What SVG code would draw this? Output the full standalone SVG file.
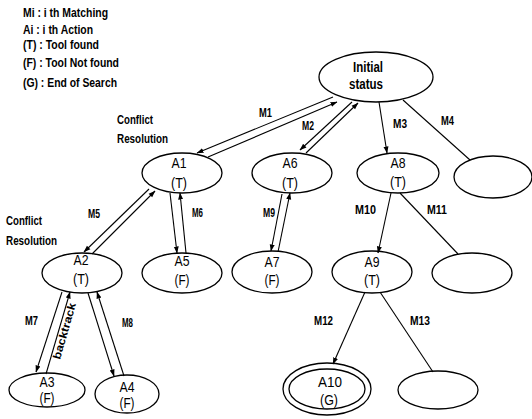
<svg xmlns="http://www.w3.org/2000/svg" width="532" height="419" viewBox="0 0 532 419">
<style>
.n{fill:none;stroke:#000;stroke-width:1.3}
.e{fill:none;stroke:#000;stroke-width:1.1}
text{font-family:"Liberation Sans",Arial,sans-serif;fill:#000}
.t{font-size:15px;text-anchor:middle}
.tb{font-size:14px;font-weight:bold;text-anchor:middle}
.m{font-size:12px;font-weight:bold}
.l{font-size:12.5px;font-weight:bold}
</style>
<defs>
<marker id="ar" markerWidth="7" markerHeight="6" refX="6.5" refY="3" orient="auto" markerUnits="userSpaceOnUse">
<path d="M0,0.5 L7,3 L0,5.5 z" fill="#000"/>
</marker>
</defs>
<g id="legend">
<text class="l" x="23" y="17" textLength="85" lengthAdjust="spacingAndGlyphs">Mi : i th Matching</text>
<text class="l" x="23" y="34" textLength="70" lengthAdjust="spacingAndGlyphs">Ai : i th Action</text>
<text class="l" x="23" y="49" textLength="76" lengthAdjust="spacingAndGlyphs">(T) : Tool found</text>
<text class="l" x="23" y="67" textLength="96" lengthAdjust="spacingAndGlyphs">(F) : Tool Not found</text>
<text class="l" x="23" y="87" textLength="94" lengthAdjust="spacingAndGlyphs">(G) : End of Search</text>
<text class="l" x="117" y="124" textLength="36" lengthAdjust="spacingAndGlyphs">Conflict</text>
<text class="l" x="117" y="143" textLength="51" lengthAdjust="spacingAndGlyphs">Resolution</text>
<text class="l" x="6" y="225" textLength="36" lengthAdjust="spacingAndGlyphs">Conflict</text>
<text class="l" x="6" y="245" textLength="51" lengthAdjust="spacingAndGlyphs">Resolution</text>
</g>
<g id="connectors">
<line class="e" x1="333" y1="97" x2="197" y2="153" marker-end="url(#ar)"/>
<line class="e" x1="208" y1="157" x2="337" y2="102" marker-end="url(#ar)"/>
<line class="e" x1="352" y1="102" x2="300" y2="150" marker-end="url(#ar)"/>
<line class="e" x1="306" y1="153" x2="358" y2="103" marker-end="url(#ar)"/>
<line class="e" x1="379" y1="102" x2="387" y2="153" marker-end="url(#ar)"/>
<line class="e" x1="403" y1="100" x2="470" y2="160"/>
<line class="e" x1="391" y1="193" x2="378" y2="253" marker-end="url(#ar)"/>
<line class="e" x1="400" y1="193" x2="458" y2="254"/>
<line class="e" x1="365" y1="292" x2="333" y2="364" marker-end="url(#ar)"/>
<line class="e" x1="380" y1="292" x2="433" y2="372"/>
<line class="e" x1="149" y1="189" x2="84" y2="252" marker-end="url(#ar)"/>
<line class="e" x1="92" y1="254" x2="155" y2="191" marker-end="url(#ar)"/>
<line class="e" x1="170" y1="193" x2="177" y2="253" marker-end="url(#ar)"/>
<line class="e" x1="186" y1="253" x2="180" y2="193" marker-end="url(#ar)"/>
<line class="e" x1="282" y1="194" x2="271" y2="251" marker-end="url(#ar)"/>
<line class="e" x1="278" y1="252" x2="290" y2="193" marker-end="url(#ar)"/>
<line class="e" x1="62" y1="292" x2="36" y2="372" marker-end="url(#ar)"/>
<line class="e" x1="46" y1="374" x2="70" y2="292" marker-end="url(#ar)"/>
<line class="e" x1="88" y1="293" x2="114" y2="376" marker-end="url(#ar)"/>
<line class="e" x1="124" y1="376" x2="97" y2="292" marker-end="url(#ar)"/>
<text class="m" x="259" y="117" textLength="13" lengthAdjust="spacingAndGlyphs">M1</text>
<text class="m" x="302" y="130" textLength="12" lengthAdjust="spacingAndGlyphs">M2</text>
<text class="m" x="393" y="128" textLength="14" lengthAdjust="spacingAndGlyphs">M3</text>
<text class="m" x="441" y="125" textLength="13" lengthAdjust="spacingAndGlyphs">M4</text>
<text class="m" x="88" y="218" textLength="12" lengthAdjust="spacingAndGlyphs">M5</text>
<text class="m" x="192" y="217" textLength="11" lengthAdjust="spacingAndGlyphs">M6</text>
<text class="m" x="263" y="217" textLength="12" lengthAdjust="spacingAndGlyphs">M9</text>
<text class="m" x="355" y="214" textLength="21" lengthAdjust="spacingAndGlyphs">M10</text>
<text class="m" x="427" y="214" textLength="20" lengthAdjust="spacingAndGlyphs">M11</text>
<text class="m" x="314" y="325" textLength="19" lengthAdjust="spacingAndGlyphs">M12</text>
<text class="m" x="410" y="325" textLength="20" lengthAdjust="spacingAndGlyphs">M13</text>
<text class="m" x="25" y="325" textLength="13" lengthAdjust="spacingAndGlyphs">M7</text>
<text class="m" x="122" y="327" textLength="11" lengthAdjust="spacingAndGlyphs">M8</text>
<text class="m" transform="translate(68,332) rotate(-74)" text-anchor="middle" style="font-size:11px" textLength="58" lengthAdjust="spacingAndGlyphs">backtrack</text>
</g>
<g id="initial"><ellipse class="n" cx="376" cy="77" rx="57" ry="25"/><text class="tb" x="368" y="72" textLength="30" lengthAdjust="spacingAndGlyphs">Initial</text><text class="tb" x="366" y="89" textLength="34" lengthAdjust="spacingAndGlyphs">status</text></g>
<g id="a1"><ellipse class="n" cx="182" cy="173" rx="40" ry="20"/><text class="t" x="179" y="168" textLength="15" lengthAdjust="spacingAndGlyphs">A1</text><text class="t" x="179" y="188" textLength="16" lengthAdjust="spacingAndGlyphs">(T)</text></g>
<g id="a6"><ellipse class="n" cx="292" cy="173" rx="40" ry="20"/><text class="t" x="290" y="168" textLength="15" lengthAdjust="spacingAndGlyphs">A6</text><text class="t" x="290" y="188" textLength="16" lengthAdjust="spacingAndGlyphs">(T)</text></g>
<g id="a8"><ellipse class="n" cx="398" cy="173" rx="41" ry="20"/><text class="t" x="398" y="168" textLength="15" lengthAdjust="spacingAndGlyphs">A8</text><text class="t" x="398" y="187" textLength="16" lengthAdjust="spacingAndGlyphs">(T)</text></g>
<g id="n4"><ellipse class="n" cx="493" cy="177" rx="39" ry="21"/></g>
<g id="a2"><ellipse class="n" cx="82" cy="273" rx="40" ry="20"/><text class="t" x="81" y="265" textLength="15" lengthAdjust="spacingAndGlyphs">A2</text><text class="t" x="81" y="284" textLength="16" lengthAdjust="spacingAndGlyphs">(T)</text></g>
<g id="a5"><ellipse class="n" cx="182" cy="273" rx="40" ry="20"/><text class="t" x="182" y="266" textLength="15" lengthAdjust="spacingAndGlyphs">A5</text><text class="t" x="182" y="285" textLength="15" lengthAdjust="spacingAndGlyphs">(F)</text></g>
<g id="a7"><ellipse class="n" cx="272" cy="272" rx="40" ry="21"/><text class="t" x="272" y="267" textLength="15" lengthAdjust="spacingAndGlyphs">A7</text><text class="t" x="272" y="285" textLength="15" lengthAdjust="spacingAndGlyphs">(F)</text></g>
<g id="a9"><ellipse class="n" cx="372" cy="272" rx="40" ry="21"/><text class="t" x="372" y="267" textLength="15" lengthAdjust="spacingAndGlyphs">A9</text><text class="t" x="372" y="285" textLength="16" lengthAdjust="spacingAndGlyphs">(T)</text></g>
<g id="n11"><ellipse class="n" cx="472" cy="273" rx="40" ry="20"/></g>
<g id="a3"><ellipse class="n" cx="47" cy="390" rx="38" ry="17"/><text class="t" x="47" y="387" textLength="15" lengthAdjust="spacingAndGlyphs">A3</text><text class="t" x="47" y="403" textLength="15" lengthAdjust="spacingAndGlyphs">(F)</text></g>
<g id="a4"><ellipse class="n" cx="127" cy="394" rx="32" ry="19"/><text class="t" x="127" y="392" textLength="15" lengthAdjust="spacingAndGlyphs">A4</text><text class="t" x="127" y="408" textLength="15" lengthAdjust="spacingAndGlyphs">(F)</text></g>
<g id="a10"><ellipse class="n" cx="327" cy="389" rx="44" ry="26"/><ellipse class="n" cx="327" cy="389" rx="38" ry="20"/><text class="t" x="330" y="387" textLength="24" lengthAdjust="spacingAndGlyphs">A10</text><text class="t" x="329" y="405" textLength="18" lengthAdjust="spacingAndGlyphs">(G)</text></g>
<g id="n13"><ellipse class="n" cx="438" cy="390" rx="40" ry="19"/></g>
</svg>
